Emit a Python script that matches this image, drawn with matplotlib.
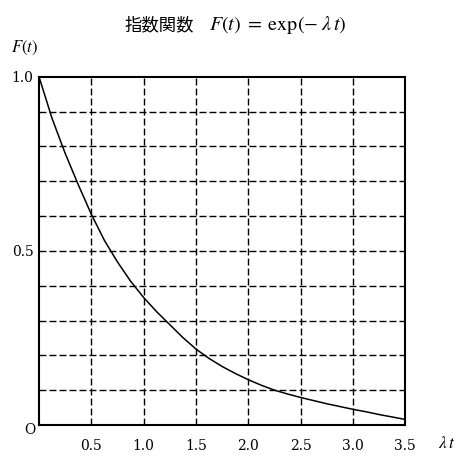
import matplotlib
matplotlib.use("Agg")
import matplotlib.pyplot as plt
import numpy as np

plt.rcParams['mathtext.fontset'] = 'stix'

# values
lt = [0.0, 0.125, 0.25, 0.375, 0.5, 0.625, 0.75, 0.875, 1.0, 1.125, 1.25, 1.375,
      1.5, 1.625, 1.75, 1.875, 2.0, 2.125, 2.25, 2.375, 2.5, 2.625, 2.75, 2.875,
      3.0, 3.125, 3.25, 3.375, 3.5]
F = [1.0, 0.88, 0.78, 0.69, 0.605, 0.53, 0.468, 0.413, 0.366, 0.325, 0.288, 0.251,
     0.218, 0.191, 0.168, 0.148, 0.13, 0.114, 0.10, 0.089, 0.079, 0.07, 0.061, 0.053,
     0.045, 0.038, 0.03, 0.023, 0.016]

xticks = [0.5, 1.0, 1.5, 2.0, 2.5, 3.0, 3.5]
xticklabels = ['0.5', '1.0', '1.5', '2.0', '2.5', '3.0', '3.5']
yticks = [0.5, 1.0]
yticklabels = ['0.5', '1.0']
ygrid = [0.1, 0.2, 0.3, 0.4, 0.5, 0.6, 0.7, 0.8, 0.9]
xgrid = [0.5, 1.0, 1.5, 2.0, 2.5, 3.0]

W, H = 472, 465
fig = plt.figure(figsize=(W / 100, H / 100), dpi=100)
ax = fig.add_axes([39 / W, 1 - 425 / H, (405.3 - 39) / W, (425 - 76.7) / H])
ax.set_xlim(0, 3.5)
ax.set_ylim(0, 1.0)

for g in xgrid:
    ax.axvline(g, color='black', lw=1.0, ls=(0, (5, 2.2)), zorder=1)
for g in ygrid:
    ax.axhline(g, color='black', lw=1.0, ls=(0, (5, 2.2)), zorder=1)

ax.plot(lt, F, color='black', lw=1.1, zorder=3)

for s in ax.spines.values():
    s.set_linewidth(1.5)
    s.set_color('black')

serif = 'DejaVu Serif'
ax.set_xticks(xticks)
ax.set_xticklabels(xticklabels, family=serif, fontsize=10)
ax.set_yticks(yticks)
ax.set_yticklabels(yticklabels, family=serif, fontsize=10)
ax.tick_params(length=0, pad=10, axis='x')
ax.tick_params(length=0, pad=4, axis='y')

fig.text(30 / W, 1 - 430 / H, 'O', family=serif, fontsize=10, ha='center', va='center')
fig.text(25 / W, 1 - 48 / H, r'$F(t)$', fontsize=12, ha='center', va='center')
fig.text(447 / W, 1 - 443 / H, r'$\lambda\,t$', fontsize=12.5, ha='center', va='center')

fig.text(194 / W, 1 - 25 / H, '指数関数', family=['Noto Sans CJK JP', 'DejaVu Sans'],
         fontsize=12.5, ha='right', va='center')
fig.text(209 / W, 1 - 25 / H, r'$F(t)\;=\;\mathrm{exp}(-\;\lambda\,t)$',
         fontsize=14.5, ha='left', va='center')

fig.savefig('out.png', dpi=100)
